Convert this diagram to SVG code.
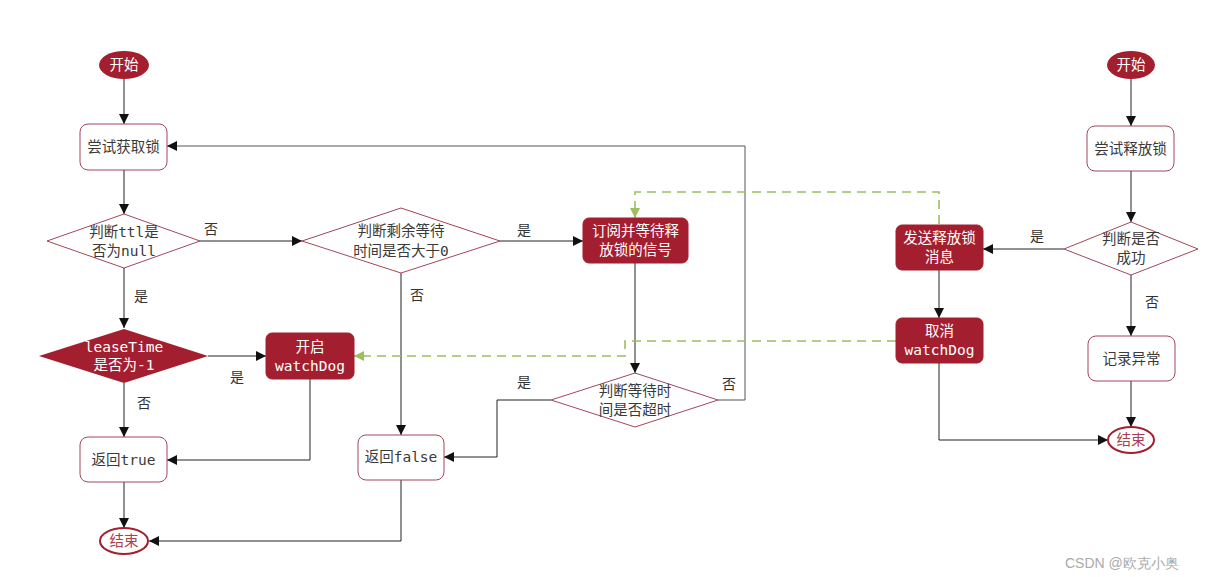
<svg xmlns="http://www.w3.org/2000/svg" width="1216" height="577" viewBox="0 0 1216 577">
<style>
text{font-family:"DejaVu Sans Mono","Noto Sans CJK SC",monospace;font-size:14.5px;text-anchor:middle;dominant-baseline:central;fill:#3a3a3a}
.w{fill:#fff}
.r{fill:#a8404e}
.lbl{font-family:"Noto Sans CJK SC",sans-serif;font-size:14px;fill:#333}
.box{fill:#fff;stroke:#a2475a;stroke-width:1}
.dbox{fill:#a31f2f;stroke:#a31f2f}
.dia{fill:#fff;stroke:#a2475a;stroke-width:1}
.ln{fill:none;stroke:#222;stroke-width:1}
.gl{fill:none;stroke:#9cc05e;stroke-width:1.6;stroke-dasharray:9,6}
.cs{font-family:"Liberation Sans",sans-serif;font-size:14px;fill:#aaa;text-anchor:start}
</style>
<defs>
<marker id="a" viewBox="0 0 10 10" refX="10" refY="5" markerWidth="10" markerHeight="10" markerUnits="userSpaceOnUse" orient="auto"><path d="M0,0L10,5L0,10z" fill="#111"/></marker>
<marker id="g" viewBox="0 0 10 10" refX="10" refY="5" markerWidth="10" markerHeight="10" markerUnits="userSpaceOnUse" orient="auto"><path d="M0,0L10,5L0,10z" fill="#9cc05e"/></marker>
</defs>
<rect width="1216" height="577" fill="#fff"/>
<g id="connectors">
<path class="ln" d="M124,79V124" marker-end="url(#a)"/>
<path class="ln" d="M124,170V214" marker-end="url(#a)"/>
<path class="ln" d="M200,241H302" marker-end="url(#a)"/>
<path class="ln" d="M124,268V328" marker-end="url(#a)"/>
<path class="ln" d="M208,356H266" marker-end="url(#a)"/>
<path class="ln" d="M124,383V437" marker-end="url(#a)"/>
<path class="ln" d="M310,379V460H167" marker-end="url(#a)"/>
<path class="ln" d="M124,482V528" marker-end="url(#a)"/>
<path class="ln" d="M500,241H583" marker-end="url(#a)"/>
<path class="ln" d="M401,273V435" marker-end="url(#a)"/>
<path class="ln" d="M401,480V541H149" marker-end="url(#a)"/>
<path class="ln" d="M635,263V373" marker-end="url(#a)"/>
<path class="ln" style="stroke:#555" d="M718,400H745V146H167" marker-end="url(#a)"/>
<path class="ln" d="M551,400H497V457H444" marker-end="url(#a)"/>
<path class="ln" d="M1131,79V126" marker-end="url(#a)"/>
<path class="ln" d="M1131,171V222" marker-end="url(#a)"/>
<path class="ln" d="M1064,249H983" marker-end="url(#a)"/>
<path class="ln" d="M939,270V318" marker-end="url(#a)"/>
<path class="ln" d="M939,363V440H1108" marker-end="url(#a)"/>
<path class="ln" d="M1131,275V336" marker-end="url(#a)"/>
<path class="ln" d="M1131,381V427" marker-end="url(#a)"/>
<path class="gl" d="M939,224V192H635V218" marker-end="url(#g)"/>
<path class="gl" d="M896,341H625V356H354" marker-end="url(#g)"/>
<text class="lbl" x="211" y="228">否</text>
<text class="lbl" x="141" y="295">是</text>
<text class="lbl" x="237" y="376">是</text>
<text class="lbl" x="144" y="402">否</text>
<text class="lbl" x="524" y="229">是</text>
<text class="lbl" x="417" y="294">否</text>
<text class="lbl" x="524" y="381">是</text>
<text class="lbl" x="729" y="383">否</text>
<text class="lbl" x="1037" y="235">是</text>
<text class="lbl" x="1152" y="301">否</text>
</g>
<g id="start1"><ellipse cx="124" cy="65" rx="25" ry="14" fill="#a31f2f"/><text class="w" x="124" y="65">开始</text></g>
<g id="tryLock"><rect class="box" x="80" y="124" width="87" height="46" rx="8"/><text x="123.5" y="147">尝试获取锁</text></g>
<g id="ttlNull"><polygon class="dia" points="124,214 200,241 124,268 47,241"/><text x="124" y="232">判断ttl是</text><text x="124" y="251">否为null</text></g>
<g id="leaseTime"><polygon fill="#a31f2f" points="124,329 208,356 124,383 39,356"/><text class="w" x="124" y="347">leaseTime</text><text class="w" x="124" y="365">是否为-1</text></g>
<g id="watchDog"><rect class="dbox" x="266" y="333" width="88" height="46" rx="6"/><text class="w" x="310" y="347">开启</text><text class="w" x="310" y="366">watchDog</text></g>
<g id="retTrue"><rect class="box" x="80" y="437" width="87" height="45" rx="8"/><text x="123.5" y="460">返回true</text></g>
<g id="end1"><ellipse cx="124" cy="541" rx="24" ry="13" fill="#fff" stroke="#a31f2f" stroke-width="2"/><text class="r" x="124" y="541">结束</text></g>
<g id="remain"><polygon class="dia" points="401,208 500,241 401,273 302,241"/><text x="401" y="231">判断剩余等待</text><text x="401" y="251">时间是否大于0</text></g>
<g id="subscribe"><rect class="dbox" x="583" y="218" width="105" height="45" rx="6"/><text class="w" x="635.5" y="231">订阅并等待释</text><text class="w" x="635.5" y="250">放锁的信号</text></g>
<g id="timeout"><polygon class="dia" points="635,373 718,400 635,427 551,400"/><text x="635" y="391">判断等待时</text><text x="635" y="410">间是否超时</text></g>
<g id="retFalse"><rect class="box" x="358" y="435" width="86" height="45" rx="8"/><text x="401" y="457">返回false</text></g>
<g id="start2"><ellipse cx="1131" cy="65" rx="24" ry="14" fill="#a31f2f"/><text class="w" x="1131" y="65">开始</text></g>
<g id="tryUnlock"><rect class="box" x="1087" y="126" width="87" height="45" rx="8"/><text x="1130.5" y="149">尝试释放锁</text></g>
<g id="success"><polygon class="dia" points="1131,222 1198,249 1131,275 1064,249"/><text x="1131" y="239">判断是否</text><text x="1131" y="258">成功</text></g>
<g id="publish"><rect class="dbox" x="896" y="225" width="87" height="45" rx="6"/><text class="w" x="939.5" y="238">发送释放锁</text><text class="w" x="939.5" y="257">消息</text></g>
<g id="cancelDog"><rect class="dbox" x="896" y="318" width="87" height="45" rx="6"/><text class="w" x="939.5" y="331">取消</text><text class="w" x="939.5" y="350">watchDog</text></g>
<g id="logErr"><rect class="box" x="1088" y="336" width="87" height="45" rx="8"/><text x="1131.5" y="359">记录异常</text></g>
<g id="end2"><ellipse cx="1131" cy="440" rx="23" ry="13" fill="#fff" stroke="#a31f2f" stroke-width="2"/><text class="r" x="1131" y="440">结束</text></g>
<text class="cs" x="1065" y="563">CSDN @欧克小奥</text>
</svg>
